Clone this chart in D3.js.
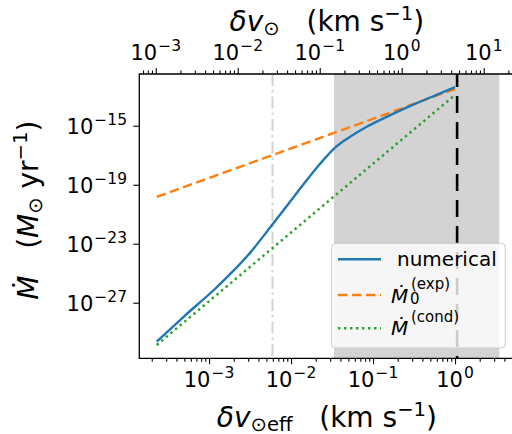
<!DOCTYPE html>
<html><head><meta charset="utf-8">
<script src="https://cdn.jsdelivr.net/npm/d3@7"></script>
<style>
body{margin:0;background:#fff}
svg{display:block}
text{font-family:"DejaVu Sans",sans-serif;fill:#000;white-space:pre}
</style>
</head><body>
<svg id="c" width="512" height="434"></svg>
<script>
// ---- data ----
const numX  = [2.30e-4, 4.86e-4, 1.24e-3, 3.16e-3, 5.92e-3, 9.72e-3, 1.55e-2, 2.26e-2, 3.37e-2, 5.25e-2, 8.38e-2, 0.134, 0.213, 0.341, 0.585, 1.0];
const numY  = [2.29e-30, 1.07e-28, 1.12e-26, 2.40e-24, 2.0e-22, 7.08e-21, 2.0e-19, 2.63e-18, 2.95e-17, 1.78e-16, 8.5e-16, 3.16e-15, 1.07e-14, 3.39e-14, 1.20e-13, 4.17e-13];
const expX  = [2.30e-4, 1.0];
const expY  = [1.48e-20, 3.09e-13];
const condX = [2.30e-4, 5.92e-3, 1.0];
const condY = [1.35e-30, 5.0e-24, 1.23e-13];
const shadeRange = [0.0334, 3.47];
const vDashed = 1.06;
const vDashDot = 5.94e-3;
const topFactor = 4.47;
const xDomain = [1.41e-4, 5.62];
const yDomain = [1.70e-31, 3.24e-12];
const bottomTicks = [1e-3, 1e-2, 1e-1, 1e0];
const topTicks = [1e-3, 1e-2, 1e-1, 1e0, 1e1];
const yTicks = [1e-15, 1e-19, 1e-23, 1e-27];
const legendLabels = ["numerical", "exp", "cond"];

// ---- layout ----
const L = 139.3, R = 516.5, T = 74, B = 358.3;
const svg = d3.select("#c");
const x = d3.scaleLog().domain(xDomain).range([L, R]);
const xTop = d3.scaleLog().domain(xDomain.map(d => d * topFactor)).range([L, R]);
const y = d3.scaleLog().domain(yDomain).range([B, T]);

svg.append("clipPath").attr("id", "clp").append("rect")
  .attr("x", L).attr("y", T).attr("width", R - L).attr("height", B - T);
const plot = svg.append("g").attr("clip-path", "url(#clp)");

// shaded span
plot.append("rect").attr("x", x(shadeRange[0])).attr("y", T)
  .attr("width", x(shadeRange[1]) - x(shadeRange[0])).attr("height", B - T)
  .attr("fill", "#d3d3d3");
// dash-dot vertical
plot.append("line").attr("x1", x(vDashDot)).attr("x2", x(vDashDot)).attr("y1", T).attr("y2", B)
  .attr("stroke", "#d3d3d3").attr("stroke-width", 2).attr("stroke-dasharray", "12,4,2.5,4");
// dashed black vertical
plot.append("line").attr("x1", x(vDashed)).attr("x2", x(vDashed)).attr("y1", T).attr("y2", B)
  .attr("stroke", "#000").attr("stroke-width", 2.6).attr("stroke-dasharray", "17,9").attr("stroke-dashoffset", 4);

const line = d3.line().x(d => x(d[0])).y(d => y(d[1]));
const lineSmooth = d3.line().x(d => x(d[0])).y(d => y(d[1])).curve(d3.curveMonotoneX);
plot.append("path").datum(condX.map((v, i) => [v, condY[i]])).attr("d", line)
  .attr("fill", "none").attr("stroke", "#2ca02c").attr("stroke-width", 2.5).attr("stroke-dasharray", "2.4,3.6");
plot.append("path").datum(expX.map((v, i) => [v, expY[i]])).attr("d", line)
  .attr("fill", "none").attr("stroke", "#ff7f0e").attr("stroke-width", 2.4).attr("stroke-dasharray", "9.5,4.5");
plot.append("path").datum(numX.map((v, i) => [v, numY[i]])).attr("d", lineSmooth)
  .attr("fill", "none").attr("stroke", "#1f77b4").attr("stroke-width", 2.4);

// ---- axes ticks ----
function minorOf(scale) {
  return scale.ticks().filter(t => {
    const e = Math.log10(t);
    return Math.abs(e - Math.round(e)) > 1e-6;
  });
}
function styleAxis(g) {
  g.select(".domain").remove();
  g.selectAll(".tick line").attr("stroke", "#000").attr("stroke-width", 1.1);
}
svg.append("g").attr("transform", `translate(0,${B})`)
  .call(d3.axisBottom(x).tickValues(bottomTicks).tickSize(6).tickFormat("")).call(styleAxis);
svg.append("g").attr("transform", `translate(0,${B})`)
  .call(d3.axisBottom(x).tickValues(minorOf(x)).tickSize(3.5).tickFormat("")).call(styleAxis);
svg.append("g").attr("transform", `translate(0,${T})`)
  .call(d3.axisTop(xTop).tickValues(topTicks).tickSize(6).tickFormat("")).call(styleAxis);
svg.append("g").attr("transform", `translate(0,${T})`)
  .call(d3.axisTop(xTop).tickValues(minorOf(xTop)).tickSize(3.5).tickFormat("")).call(styleAxis);
svg.append("g").attr("transform", `translate(${L},0)`)
  .call(d3.axisLeft(y).tickValues(yTicks).tickSize(6).tickFormat("")).call(styleAxis);

// frame
svg.append("path").attr("d", `M${R},${T}H${L}V${B}H${R}`).attr("fill", "none")
  .attr("stroke", "#000").attr("stroke-width", 1.3);

// ---- rich text helper ----
function rich(parent, px, py, parts, anchor, transform) {
  const t = parent.append("text").attr("x", px).attr("y", py).attr("text-anchor", anchor || "start");
  if (transform) t.attr("transform", transform);
  let cur = 0;
  parts.forEach(p => {
    const sh = p.sh || 0;
    const ts = t.append("tspan").text(p.t).attr("font-size", p.s).attr("dy", -(sh - cur));
    if (p.it) ts.attr("font-style", "italic");
    if (p.dx) ts.attr("dx", p.dx);
    cur = sh;
  });
  return t;
}
function pow10Parts(v) {
  const e = Math.round(Math.log10(v));
  const es = (e < 0 ? "\u2212" : "") + Math.abs(e);
  return [{t: "10", s: 21}, {t: es, s: 15.5, sh: 9, dx: 1}];
}

bottomTicks.forEach(v => rich(svg, x(v), 386.5, pow10Parts(v), "middle"));
topTicks.forEach(v => rich(svg, xTop(v), 60, pow10Parts(v), "middle"));
yTicks.forEach(v => rich(svg, 127, y(v) + 8.3, pow10Parts(v), "end"));

// axis labels
const LS = 28;
rich(svg, (L + R) / 2 - 1, 427, [
  {t: "\u03b4", s: LS, it: true}, {t: "v", s: LS, it: true},
  {t: "\u2299eff", s: LS * 0.7, sh: -3.5},
  {t: "   (km s", s: LS}, {t: "\u22121", s: LS * 0.7, sh: 11}, {t: ")", s: LS}
], "middle");
rich(svg, (L + R) / 2 - 1, 31, [
  {t: "\u03b4", s: LS, it: true}, {t: "v", s: LS, it: true},
  {t: "\u2299", s: LS * 0.7, sh: -4},
  {t: "   (km s", s: LS}, {t: "\u22121", s: LS * 0.7, sh: 11}, {t: ")", s: LS}
], "middle");
rich(svg, 0, 0, [
  {t: "\u1e40", s: LS, it: true}, {t: "   (", s: LS}, {t: "M", s: LS, it: true},
  {t: "\u2299", s: LS * 0.7, sh: -4}, {t: " yr", s: LS},
  {t: "\u22121", s: LS * 0.7, sh: 11}, {t: ")", s: LS}
], "middle", `translate(38,${(T + B) / 2 - 6}) rotate(-90)`);

// ---- legend ----
const lg = svg.append("g");
lg.append("rect").attr("x", 331.7).attr("y", 243.3).attr("width", 173.6).attr("height", 104.7)
  .attr("rx", 4).attr("fill", "#fff").attr("fill-opacity", 0.8).attr("stroke", "#cccccc").attr("stroke-width", 1);
const legendStyles = [
  {c: "#1f77b4", dash: null, y: 259.3},
  {c: "#ff7f0e", dash: "9.5,4.5", y: 295},
  {c: "#2ca02c", dash: "2.4,3.6", y: 328.3}
];
legendStyles.forEach(st => {
  const l = lg.append("line").attr("x1", 338).attr("x2", 381).attr("y1", st.y).attr("y2", st.y)
    .attr("stroke", st.c).attr("stroke-width", 2.4);
  if (st.dash) l.attr("stroke-dasharray", st.dash);
});
lg.append("text").attr("x", 397).attr("y", 266).attr("font-size", 20).text(legendLabels[0]);
lg.append("text").attr("x", 391).attr("y", 303).attr("font-size", 20).attr("font-style", "italic").text("\u1e40");
lg.append("text").attr("x", 411).attr("y", 289).attr("font-size", 15).text("(" + legendLabels[1] + ")");
lg.append("text").attr("x", 410).attr("y", 304).attr("font-size", 15).text("0");
lg.append("text").attr("x", 391).attr("y", 335).attr("font-size", 20).attr("font-style", "italic").text("\u1e40");
lg.append("text").attr("x", 411).attr("y", 322).attr("font-size", 15).text("(" + legendLabels[2] + ")");
</script>
</body></html>
